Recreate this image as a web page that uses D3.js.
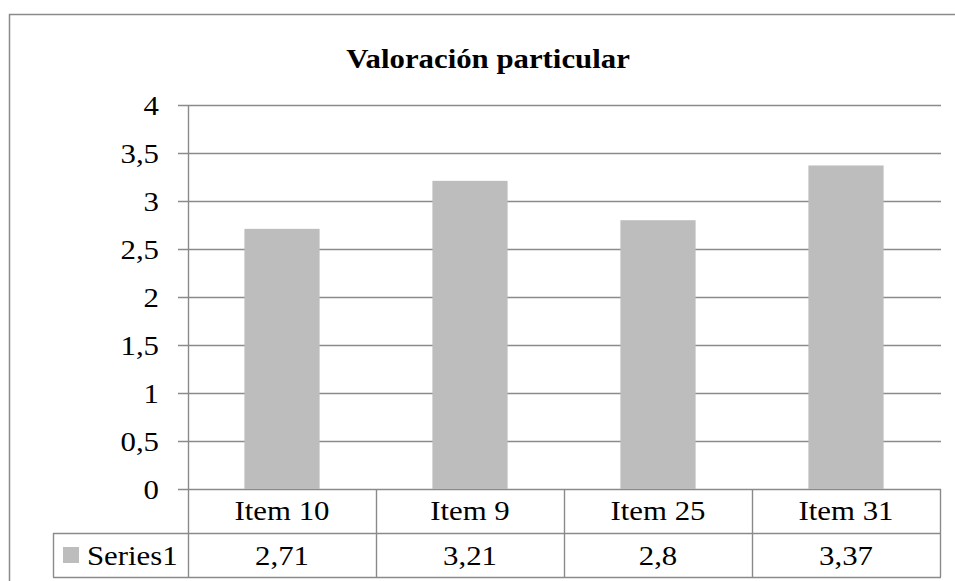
<!DOCTYPE html>
<head>
  <meta charset="utf-8">
  <script src="https://d3js.org/d3.v7.min.js"></script>
  <style>
    body { margin: 0; background: #fff; }
    text {
      font-family: 'Liberation Serif', 'Times New Roman', serif;
      fill: #000;
    }
  </style>
</head>
<body>
  <div id="chart"></div>
  <script>
    var categories = ["Item 10", "Item 9", "Item 25", "Item 31"];
    var values = [2.71, 3.21, 2.8, 3.37];
    var seriesName = "Series1";
    var yTicks = [0, 0.5, 1, 1.5, 2, 2.5, 3, 3.5, 4];

    var W = 955, H = 581;
    var plot = {left: 188, right: 940, top: 105, bottom: 489};
    var rowH = 44;
    var legendLeft = 53;
    var fontSize = 28;
    var stretch = 1.1;
    var lineColor = "#8a8a8a";
    var barColor = "#bdbdbd";
    var fmt = d => String(d).replace(".", ",");

    var svg = d3.select("#chart").append("svg")
      .attr("width", W)
      .attr("height", H);

    // chart frame (right and bottom edges fall outside the picture)
    svg.append("rect")
      .attr("x", 9.5).attr("y", 14.5)
      .attr("width", W + 10).attr("height", H + 10)
      .attr("fill", "none")
      .attr("stroke", lineColor)
      .attr("stroke-width", 1.5);

    var x = d3.scaleBand()
      .domain(categories)
      .range([plot.left, plot.right])
      .padding(0);

    var xBar = d3.scaleBand()
      .domain(categories)
      .range([plot.left, plot.right])
      .paddingInner(0.6)
      .paddingOuter(0.3);

    var y = d3.scaleLinear()
      .domain([0, 4])
      .range([plot.bottom, plot.top]);

    function label(g, tx, ty, txt, anchor) {
      return g.append("text")
        .attr("transform", "translate(" + tx + "," + ty + ") scale(" + stretch + ",1)")
        .attr("text-anchor", anchor || "middle")
        .attr("font-size", fontSize)
        .text(txt);
    }

    // title
    label(svg, 488, 68, "Valoración particular")
      .attr("font-weight", "bold");

    // gridlines + tick labels
    var grid = svg.append("g");
    yTicks.forEach(function (t) {
      grid.append("line")
        .attr("x1", plot.left - 10).attr("x2", plot.right + 1)
        .attr("y1", Math.round(y(t)) + 0.5).attr("y2", Math.round(y(t)) + 0.5)
        .attr("stroke", lineColor)
        .attr("stroke-width", 1.4);
      label(grid, 159, y(t) + 9.5, fmt(t), "end");
    });

    // bars
    svg.append("g").selectAll("rect")
      .data(values)
      .join("rect")
      .attr("x", (d, i) => xBar(categories[i]))
      .attr("width", xBar.bandwidth())
      .attr("y", d => y(d))
      .attr("height", d => y(0) - y(d))
      .attr("fill", barColor);

    // value axis line
    svg.append("line")
      .attr("x1", plot.left + 0.5).attr("x2", plot.left + 0.5)
      .attr("y1", plot.top).attr("y2", plot.bottom + 2 * rowH)
      .attr("stroke", lineColor)
      .attr("stroke-width", 1.4);

    // data table
    var table = svg.append("g");
    var r1 = plot.bottom + rowH, r2 = plot.bottom + 2 * rowH;
    [r1, r2].forEach(function (ry) {
      table.append("line")
        .attr("x1", legendLeft).attr("x2", plot.right + 1)
        .attr("y1", ry + 0.5).attr("y2", ry + 0.5)
        .attr("stroke", lineColor).attr("stroke-width", 1.4);
    });
    table.append("line")
      .attr("x1", legendLeft + 0.5).attr("x2", legendLeft + 0.5)
      .attr("y1", r1).attr("y2", r2)
      .attr("stroke", lineColor).attr("stroke-width", 1.4);
    categories.forEach(function (c, i) {
      var right = x(c) + x.bandwidth();
      table.append("line")
        .attr("x1", right + 0.5).attr("x2", right + 0.5)
        .attr("y1", plot.bottom).attr("y2", r2)
        .attr("stroke", lineColor).attr("stroke-width", 1.4);
      var cx = x(c) + x.bandwidth() / 2;
      label(table, cx, plot.bottom + 31, c);
      label(table, cx, r1 + 32, fmt(values[i]));
    });

    // legend key
    table.append("rect")
      .attr("x", 63).attr("y", r1 + 14)
      .attr("width", 16).attr("height", 16)
      .attr("fill", barColor);
    label(table, 87, r1 + 32, seriesName, "start");
  </script>
</body>
